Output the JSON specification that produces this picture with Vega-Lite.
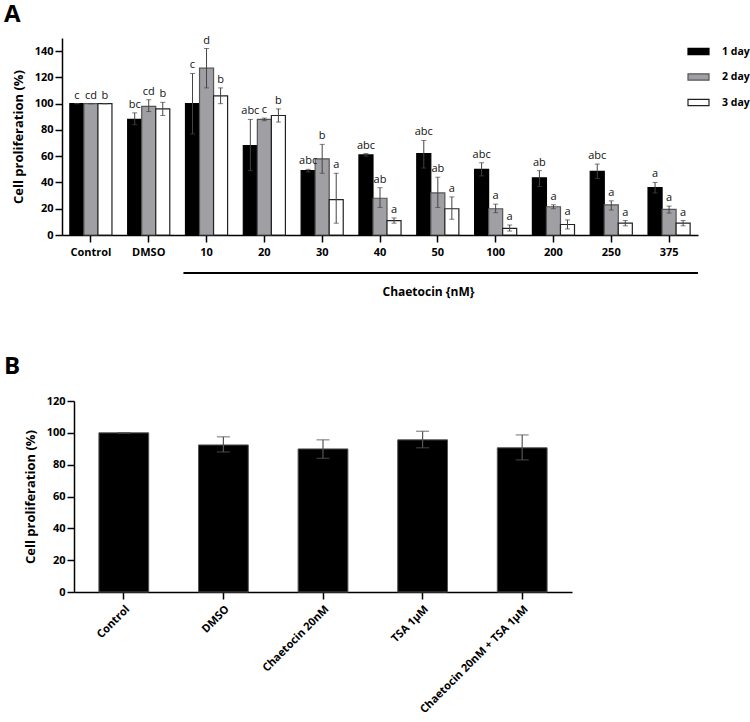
{
  "$schema": "https://vega.github.io/schema/vega-lite/v6.json",
  "padding": {"left": 4, "top": 2, "right": 0, "bottom": 0},
  "background": "white",
  "config": {
    "font": "Open Sans",
    "view": {"stroke": null},
    "axis": {
      "labelFont": "Open Sans", "labelFontWeight": "bold", "labelFontSize": 11, "labelColor": "#000",
      "titleFont": "Open Sans", "titleFontWeight": "bold", "titleFontSize": 13, "titleColor": "#000",
      "domainColor": "#000", "domainWidth": 1.5, "tickColor": "#000", "tickWidth": 1.5, "tickSize": 7,
      "labelPadding": 2, "titlePadding": 9, "grid": false
    },
    "title": {"font": "Open Sans", "fontWeight": "bold", "fontSize": 24, "color": "#000"}
  },
  "vconcat": [
    {
      "vconcat": [
        {
          "width": 636,
          "height": 197,
          "title": {"text": "A", "anchor": "start", "frame": "group", "dx": -58, "offset": 8},
          "data": {"values": [
            {"conc": "Control", "day": "1 day", "mean": 100, "lo": 100, "hi": 100, "letter": "c"},
            {"conc": "Control", "day": "2 day", "mean": 100, "lo": 100, "hi": 100, "letter": "cd"},
            {"conc": "Control", "day": "3 day", "mean": 100, "lo": 100, "hi": 100, "letter": "b"},
            {"conc": "DMSO", "day": "1 day", "mean": 88, "lo": 84, "hi": 93, "letter": "bc"},
            {"conc": "DMSO", "day": "2 day", "mean": 98, "lo": 94, "hi": 103, "letter": "cd"},
            {"conc": "DMSO", "day": "3 day", "mean": 96, "lo": 91, "hi": 101, "letter": "b"},
            {"conc": "10", "day": "1 day", "mean": 100, "lo": 77, "hi": 123, "letter": "c"},
            {"conc": "10", "day": "2 day", "mean": 127, "lo": 112, "hi": 142, "letter": "d"},
            {"conc": "10", "day": "3 day", "mean": 106, "lo": 100, "hi": 112, "letter": "b"},
            {"conc": "20", "day": "1 day", "mean": 68, "lo": 49, "hi": 88, "letter": "abc"},
            {"conc": "20", "day": "2 day", "mean": 88, "lo": 87, "hi": 89, "letter": "c"},
            {"conc": "20", "day": "3 day", "mean": 91, "lo": 86, "hi": 96, "letter": "b"},
            {"conc": "30", "day": "1 day", "mean": 49, "lo": 48, "hi": 50, "letter": "abc"},
            {"conc": "30", "day": "2 day", "mean": 58, "lo": 47, "hi": 69, "letter": "b"},
            {"conc": "30", "day": "3 day", "mean": 27, "lo": 9, "hi": 47, "letter": "a"},
            {"conc": "40", "day": "1 day", "mean": 61, "lo": 60, "hi": 62, "letter": "abc"},
            {"conc": "40", "day": "2 day", "mean": 28, "lo": 21, "hi": 36, "letter": "ab"},
            {"conc": "40", "day": "3 day", "mean": 11, "lo": 9, "hi": 13, "letter": "a"},
            {"conc": "50", "day": "1 day", "mean": 62, "lo": 51, "hi": 72, "letter": "abc"},
            {"conc": "50", "day": "2 day", "mean": 32, "lo": 21, "hi": 44, "letter": "ab"},
            {"conc": "50", "day": "3 day", "mean": 20, "lo": 12, "hi": 29, "letter": "a"},
            {"conc": "100", "day": "1 day", "mean": 50, "lo": 45, "hi": 55, "letter": "abc"},
            {"conc": "100", "day": "2 day", "mean": 20, "lo": 17, "hi": 23.5, "letter": "a"},
            {"conc": "100", "day": "3 day", "mean": 5, "lo": 3, "hi": 7.6, "letter": "a"},
            {"conc": "200", "day": "1 day", "mean": 43.5, "lo": 37, "hi": 49, "letter": "ab"},
            {"conc": "200", "day": "2 day", "mean": 21.5, "lo": 20, "hi": 23, "letter": "a"},
            {"conc": "200", "day": "3 day", "mean": 8, "lo": 4.6, "hi": 11.5, "letter": "a"},
            {"conc": "250", "day": "1 day", "mean": 48.5, "lo": 43, "hi": 54, "letter": "abc"},
            {"conc": "250", "day": "2 day", "mean": 23, "lo": 19, "hi": 26, "letter": "a"},
            {"conc": "250", "day": "3 day", "mean": 9, "lo": 7, "hi": 11, "letter": "a"},
            {"conc": "375", "day": "1 day", "mean": 36, "lo": 32, "hi": 40, "letter": "a"},
            {"conc": "375", "day": "2 day", "mean": 19.5, "lo": 16.7, "hi": 22, "letter": "a"},
            {"conc": "375", "day": "3 day", "mean": 9, "lo": 7, "hi": 11, "letter": "a"}
          ]},
          "encoding": {
            "x": {"field": "conc", "type": "nominal",
                  "sort": ["Control", "DMSO", "10", "20", "30", "40", "50", "100", "200", "250", "375"],
                  "scale": {"type": "band", "paddingInner": 0, "paddingOuter": 0},
                  "axis": {"title": null, "labelAngle": 0, "labelPadding": 4}},
            "xOffset": {"field": "day", "type": "nominal", "sort": ["1 day", "2 day", "3 day"],
                        "scale": {"paddingInner": 0, "paddingOuter": 0.56}}
          },
          "layer": [
            {
              "mark": {"type": "bar", "strokeWidth": 1.2},
              "encoding": {
                "y": {"field": "mean", "type": "quantitative",
                      "scale": {"domain": [0, 150], "nice": false},
                      "axis": {"values": [0, 20, 40, 60, 80, 100, 120, 140], "title": "Cell proliferation (%)"}},
                "fill": {"field": "day", "type": "nominal",
                         "scale": {"domain": ["1 day", "2 day", "3 day"], "range": ["#000000", "#a0a0a4", "#ffffff"]},
                         "legend": {"title": null, "orient": "none", "legendX": 625, "legendY": 2,
                                    "symbolType": "M-1,-0.3H1V0.3H-1Z", "symbolSize": 441, "symbolStrokeWidth": 1.2,
                                    "labelOffset": 12, "rowPadding": 7.5, "padding": 0,
                                    "labelFont": "Open Sans", "labelFontWeight": "bold", "labelFontSize": 10.5, "labelColor": "#000"}},
                "stroke": {"field": "day", "type": "nominal",
                           "scale": {"domain": ["1 day", "2 day", "3 day"], "range": ["#000000", "#555555", "#222222"]},
                           "legend": {"title": null, "orient": "none", "legendX": 625, "legendY": 2,
                                      "symbolType": "M-1,-0.3H1V0.3H-1Z", "symbolSize": 441, "symbolStrokeWidth": 1.2,
                                      "labelOffset": 12, "rowPadding": 7.5, "padding": 0,
                                      "labelFont": "Open Sans", "labelFontWeight": "bold", "labelFontSize": 10.5, "labelColor": "#000"}}
              }
            },
            {
              "mark": {"type": "rule", "color": "#444", "strokeWidth": 1},
              "encoding": {
                "y": {"field": "lo", "type": "quantitative",
                      "axis": {"values": [0, 20, 40, 60, 80, 100, 120, 140], "title": "Cell proliferation (%)"}},
                "y2": {"field": "hi"}}
            },
            {
              "mark": {"type": "tick", "color": "#444", "size": 5, "thickness": 1},
              "encoding": {"y": {"field": "lo", "type": "quantitative",
                                 "axis": {"values": [0, 20, 40, 60, 80, 100, 120, 140], "title": "Cell proliferation (%)"}}}
            },
            {
              "mark": {"type": "tick", "color": "#444", "size": 5, "thickness": 1},
              "encoding": {"y": {"field": "hi", "type": "quantitative",
                                 "axis": {"values": [0, 20, 40, 60, 80, 100, 120, 140], "title": "Cell proliferation (%)"}}}
            },
            {
              "mark": {"type": "text", "baseline": "bottom", "dy": -3, "fontSize": 11, "font": "Open Sans", "fill": "#111111"},
              "encoding": {"y": {"field": "hi", "type": "quantitative",
                                 "axis": {"values": [0, 20, 40, 60, 80, 100, 120, 140], "title": "Cell proliferation (%)"}},
                           "text": {"field": "letter"}}
            }
          ]
        },
        {
          "width": 636,
          "height": 20,
          "data": {"values": [{"start": "10", "end": "375"}]},
          "mark": {"type": "rule", "color": "#000", "strokeWidth": 2},
          "encoding": {
            "x": {"field": "start", "type": "nominal", "bandPosition": 0.1,
                  "scale": {"type": "band", "domain": ["Control", "DMSO", "10", "20", "30", "40", "50", "100", "200", "250", "375"], "paddingInner": 0, "paddingOuter": 0},
                  "axis": {"title": "Chaetocin {nM}", "labels": false, "ticks": false, "domain": false,
                           "titleX": 366, "titlePadding": 3, "titleFontSize": 12}},
            "x2": {"field": "end", "bandPosition": 1}
          }
        }
      ],
      "spacing": 6
    },
    {
      "width": 510,
      "height": 191,
      "title": {"text": "B", "anchor": "start", "frame": "group", "dx": -58, "offset": 16},
      "data": {"values": [
        {"cond": "Control", "mean": 100, "lo": 100, "hi": 100},
        {"cond": "DMSO", "mean": 92.4, "lo": 88, "hi": 97.5},
        {"cond": "Chaetocin 20nM", "mean": 89.9, "lo": 84, "hi": 95.6},
        {"cond": "TSA 1µM", "mean": 95.6, "lo": 90.6, "hi": 101},
        {"cond": "Chaetocin 20nM + TSA 1µM", "mean": 90.6, "lo": 83, "hi": 98.7}
      ]},
      "encoding": {
        "x": {"field": "cond", "type": "nominal",
              "sort": ["Control", "DMSO", "Chaetocin 20nM", "TSA 1µM", "Chaetocin 20nM + TSA 1µM"],
              "scale": {"type": "band", "range": [12, 510], "paddingInner": 0.5, "paddingOuter": 0.25},
              "axis": {"title": null, "labelAngle": -45, "labelPadding": 4}}
      },
      "layer": [
        {
          "mark": {"type": "bar", "fill": "#000", "stroke": "#555", "strokeWidth": 1},
          "encoding": {
            "y": {"field": "mean", "type": "quantitative", "scale": {"domain": [0, 120], "nice": false},
                  "axis": {"values": [0, 20, 40, 60, 80, 100, 120], "title": "Cell proliferation (%)", "offset": -12}}
          }
        },
        {
          "mark": {"type": "rule", "color": "#555", "strokeWidth": 1.2},
          "encoding": {"y": {"field": "lo", "type": "quantitative",
                             "axis": {"values": [0, 20, 40, 60, 80, 100, 120], "title": "Cell proliferation (%)", "offset": -12}},
                       "y2": {"field": "hi"}}
        },
        {
          "mark": {"type": "tick", "color": "#555", "size": 13, "thickness": 1.2},
          "encoding": {"y": {"field": "lo", "type": "quantitative",
                             "axis": {"values": [0, 20, 40, 60, 80, 100, 120], "title": "Cell proliferation (%)", "offset": -12}}}
        },
        {
          "mark": {"type": "tick", "color": "#555", "size": 13, "thickness": 1.2},
          "encoding": {"y": {"field": "hi", "type": "quantitative",
                             "axis": {"values": [0, 20, 40, 60, 80, 100, 120], "title": "Cell proliferation (%)", "offset": -12}}}
        }
      ]
    }
  ],
  "spacing": 58
}
